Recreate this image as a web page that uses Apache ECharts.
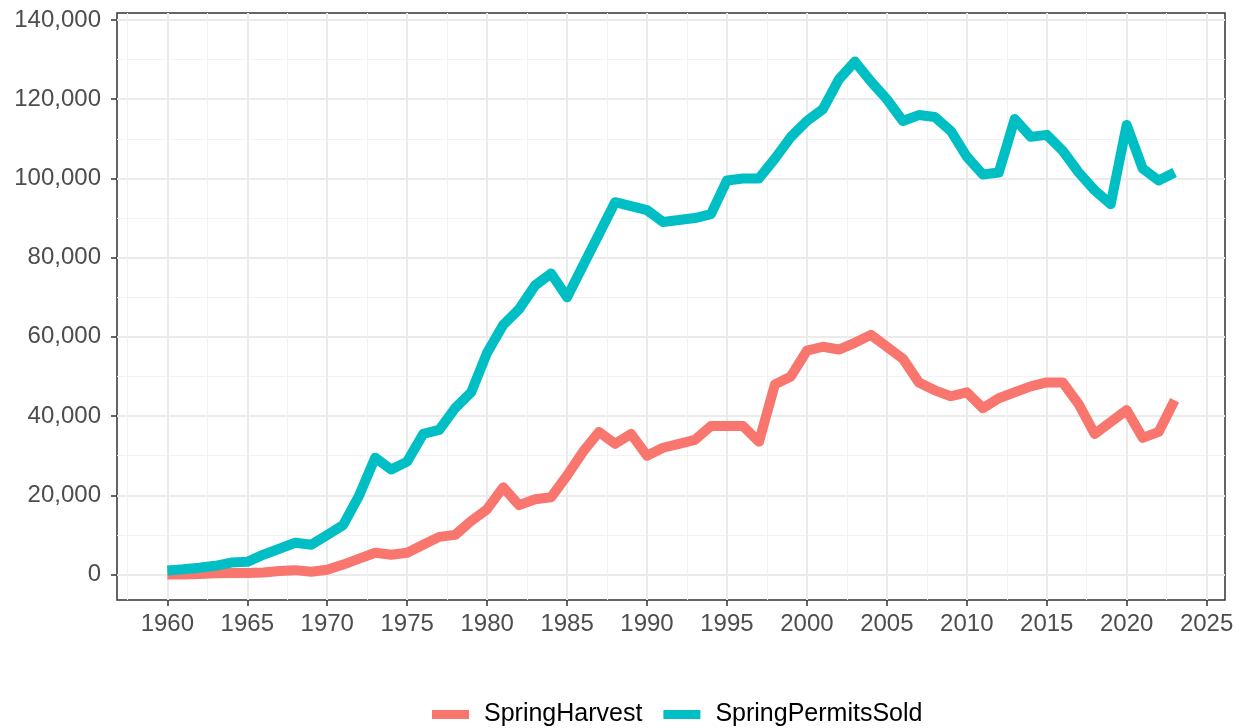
<!DOCTYPE html>
<html>
<head>
<meta charset="utf-8">
<script src="https://cdn.jsdelivr.net/npm/echarts@6/dist/echarts.min.js"></script>
<style>
  html, body { margin: 0; padding: 0; background: #fff; }
  #chart { width: 1250px; height: 728px; }
</style>
</head>
<body>
<div id="chart"></div>
<script>
// years 1960..2023
const years = [
  1960, 1961, 1962, 1963, 1964, 1965, 1966, 1967, 1968, 1969,
  1970, 1971, 1972, 1973, 1974, 1975, 1976, 1977, 1978, 1979,
  1980, 1981, 1982, 1983, 1984, 1985, 1986, 1987, 1988, 1989,
  1990, 1991, 1992, 1993, 1994, 1995, 1996, 1997, 1998, 1999,
  2000, 2001, 2002, 2003, 2004, 2005, 2006, 2007, 2008, 2009,
  2010, 2011, 2012, 2013, 2014, 2015, 2016, 2017, 2018, 2019,
  2020, 2021, 2022, 2023,
]
const springHarvest = [
  0, 0, 100, 300, 400, 400, 500, 900, 1100, 700,
  1200, 2500, 4000, 5500, 5000, 5500, 7500, 9500, 10000, 13500,
  16500, 22000, 17500, 19000, 19500, 25000, 31000, 36000, 33000, 35500,
  30000, 32000, 33000, 34000, 37500, 37500, 37500, 33500, 48000, 50000,
  56500, 57500, 56800, 58500, 60500, 57500, 54500, 48500, 46500, 45000,
  46000, 42000, 44500, 46000, 47500, 48500, 48500, 43000, 35500, 38500,
  41500, 34500, 36000, 44000,
]
const springPermitsSold = [
  1000, 1300, 1700, 2200, 3000, 3200, 5000, 6500, 8000, 7500,
  10000, 12500, 20000, 29500, 26500, 28500, 35500, 36500, 42000, 46000,
  56000, 63000, 67000, 73000, 76000, 70000, 78000, 86000, 94000, 93000,
  92000, 89000, 89500, 90000, 91000, 99500, 100000, 100000, 105000, 110500,
  114500, 117500, 125000, 129500, 124500, 120000, 114500, 116000, 115500, 112000,
  105500, 101000, 101500, 115000, 110500, 111000, 107000, 101500, 97000, 93500,
  113500, 102500, 99500, 101500,
]
const xBreaks = [1960, 1965, 1970, 1975, 1980, 1985, 1990, 1995, 2000, 2005, 2010, 2015, 2020, 2025]
const xMinor = [1957.5, 1962.5, 1967.5, 1972.5, 1977.5, 1982.5, 1987.5, 1992.5, 1997.5, 2002.5, 2007.5, 2012.5, 2017.5, 2022.5]
const yBreaks = [0, 20000, 40000, 60000, 80000, 100000, 120000, 140000]
const yMinor = [-10000, 10000, 30000, 50000, 70000, 90000, 110000, 130000]

const chart = echarts.init(document.getElementById('chart'))

const font = 'Liberation Sans, Arial, Helvetica, sans-serif'
const xMin = 1956.85
const xMax = 2026.15
const yMin = -6440
const yMax = 141770

const option = {
  animation: false,
  backgroundColor: '#ffffff',
  textStyle: { fontFamily: font },
  grid: {
    left: 117,
    right: 25,
    top: 13,
    bottom: 128,
    show: true,
    borderColor: '#333333',
    borderWidth: 1.5,
    backgroundColor: '#ffffff',
  },
  legend: {
    left: 427,
    top: 697,
    icon: 'rect',
    itemWidth: 37,
    itemHeight: 9,
    itemGap: 21,
    textStyle: {
      color: '#000000',
      fontSize: 25,
      fontFamily: font,
      padding: [0, 0, 0, 10],
    },
    data: ['SpringHarvest', 'SpringPermitsSold'],
  },
  xAxis: [
    {
      type: 'value',
      min: xMin,
      max: xMax,
      axisLine: { show: false, onZero: false },
      axisTick: {
        show: true,
        length: 6,
        lineStyle: { color: '#333333', width: 1.5 },
        customValues: xBreaks,
      },
      axisLabel: {
        color: '#4D4D4D',
        fontSize: 24,
        margin: 12,
        customValues: xBreaks,
        formatter: (v) => String(v),
      },
      splitLine: { show: true, lineStyle: { color: '#EBEBEB', width: 2 } },
    },
    {
      // minor grid
      type: 'value',
      position: 'top',
      min: xMin,
      max: xMax,
      axisLine: { show: false, onZero: false },
      axisTick: { show: false, customValues: xMinor },
      axisLabel: { show: false, customValues: xMinor },
      splitLine: { show: true, lineStyle: { color: '#F2F2F2', width: 1 } },
    },
  ],
  yAxis: [
    {
      type: 'value',
      min: yMin,
      max: yMax,
      axisLine: { show: false, onZero: false },
      axisTick: {
        show: true,
        length: 6,
        lineStyle: { color: '#333333', width: 1.5 },
        customValues: yBreaks,
      },
      axisLabel: {
        color: '#4D4D4D',
        fontSize: 24,
        margin: 16,
        customValues: yBreaks,
        formatter: (v) => v.toLocaleString('en-US'),
      },
      splitLine: { show: true, lineStyle: { color: '#EBEBEB', width: 2 } },
    },
    {
      type: 'value',
      position: 'right',
      min: yMin,
      max: yMax,
      axisLine: { show: false, onZero: false },
      axisTick: { show: false, customValues: yMinor },
      axisLabel: { show: false, customValues: yMinor },
      splitLine: { show: true, lineStyle: { color: '#F2F2F2', width: 1 } },
    },
  ],
  series: [
    {
      name: 'SpringHarvest',
      type: 'line',
      showSymbol: false,
      data: years.map((y, i) => [y, springHarvest[i]]),
      lineStyle: { color: '#F8766D', width: 10, join: 'round', cap: 'butt' },
      itemStyle: { color: '#F8766D' },
      z: 3,
    },
    {
      name: 'SpringPermitsSold',
      type: 'line',
      showSymbol: false,
      data: years.map((y, i) => [y, springPermitsSold[i]]),
      lineStyle: { color: '#00BFC4', width: 10, join: 'round', cap: 'butt' },
      itemStyle: { color: '#00BFC4' },
      z: 3,
    },
  ],
}

chart.setOption(option)
</script>
</body>
</html>
